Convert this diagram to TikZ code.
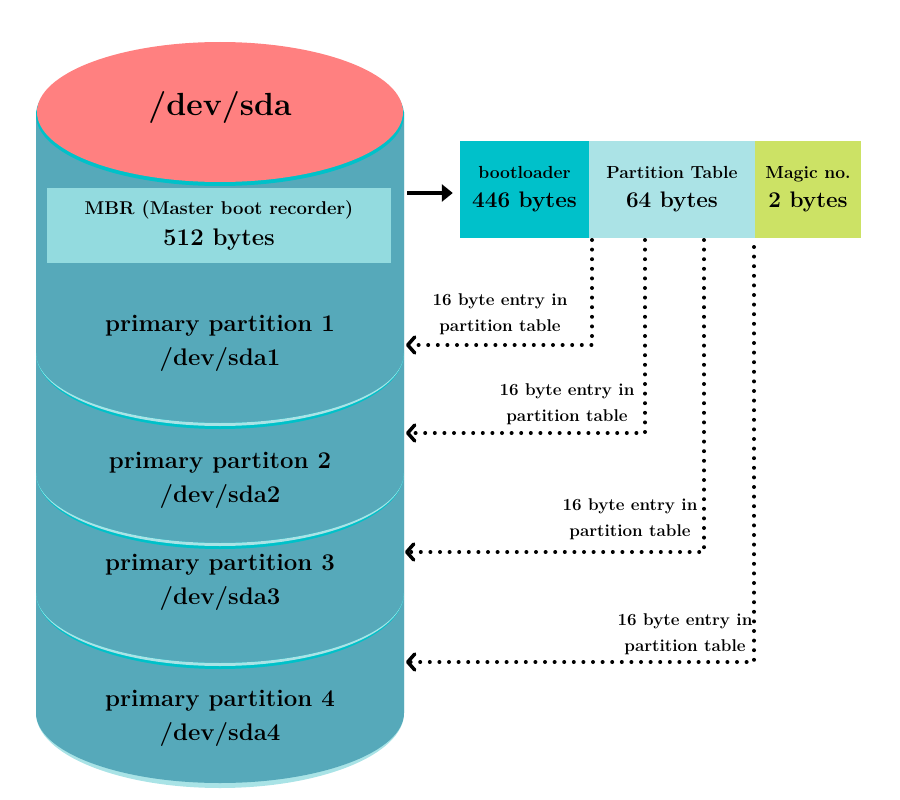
\documentclass[tikz,border=0pt]{standalone}
\usepackage{tikz}
\usetikzlibrary{arrows.meta}

\definecolor{disk}{HTML}{56A9BA}
\definecolor{diskrim}{HTML}{00C1C9}
\definecolor{disklight}{HTML}{A9E3E6}
\definecolor{sdared}{HTML}{FF8080}
\definecolor{mbrfill}{HTML}{93DBDF}
\definecolor{bootfill}{HTML}{00C1CA}
\definecolor{ptabfill}{HTML}{ABE3E6}
\definecolor{magicfill}{HTML}{CCE265}

\tikzset{
  field/.style={shape=rectangle, inner sep=0pt, minimum height=97pt, align=center, font=\fontsize{22.5}{29}\selectfont\bfseries},
  part/.style={align=center, font=\fontsize{24}{34}\selectfont\bfseries},
  entry/.style={line width=4pt, line cap=round, dash pattern=on 0pt off 9.6pt,
    -{Straight Barb[round,length=7pt,width=16pt,line width=3.5pt]}},
  entrylabel/.style={align=center, font=\fontsize{17}{26}\selectfont\bfseries},
}

\begin{document}
\begin{tikzpicture}[x=1pt,y=-1pt]
        \useasboundingbox (0,0) rectangle (900,800);

        % disk body
        \fill[disklight] (36,112) -- (36,713) arc[start angle=180,end angle=360,x radius=184pt,y radius=75pt] -- (404,112) -- cycle;
        \fill[disk] (36,112) -- (36,713) arc[start angle=180,end angle=360,x radius=184pt,y radius=70pt] -- (404,112) -- cycle;
        \foreach \c in {353,473,593} {
            \fill[diskrim] (36,\c) arc[start angle=180,end angle=360,x radius=184pt,y radius=76pt]
                arc[start angle=0,end angle=-180,x radius=184pt,y radius=70pt] -- cycle;
            \fill[disklight] (36,\c) arc[start angle=180,end angle=360,x radius=184pt,y radius=73pt]
                arc[start angle=0,end angle=-180,x radius=184pt,y radius=70pt] -- cycle;
        }
        \fill[diskrim] (220,115) ellipse[x radius=184pt,y radius=71pt];
        \fill[sdared] (220,112) ellipse[x radius=183pt,y radius=70pt];

        \node[font=\fontsize{32}{36}\selectfont\bfseries] (sda) at (220,107) {/dev/sda};
        \node[shape=rectangle,fill=mbrfill,minimum width=344pt,minimum height=75pt,align=center,
              font=\fontsize{24}{31}\selectfont\bfseries] (mbr) at (219,225.5)
            {{\fontsize{18.5}{31}\selectfont MBR (Master boot recorder)}\\512 bytes};
        \node[part] (sda1) at (220,343) {primary partition 1\\/dev/sda1};
        \node[part] (sda2) at (220,480) {primary partiton 2\\/dev/sda2};
        \node[part] (sda3) at (220,582) {primary partition 3\\/dev/sda3};
        \node[part] (sda4) at (220,718) {primary partition 4\\/dev/sda4};

        % MBR fields
        \node[field,fill=bootfill,minimum width=129pt] (boot) at (524.5,189.5)
            {{\fontsize{17.5}{29}\selectfont bootloader}\\446 bytes};
        \node[field,fill=ptabfill,minimum width=166pt] (ptab) at (672,189.5)
            {{\fontsize{17.5}{29}\selectfont Partition Table}\\64 bytes};
        \node[field,fill=magicfill,minimum width=106pt] (magic) at (808,189.5)
            {{\fontsize{17.5}{29}\selectfont Magic no.}\\2 bytes};

        \coordinate (mbrout) at (407,193);
        \draw[line width=3.5pt,-{Triangle[length=11pt,width=17pt]}] (mbrout) -- (mbrout -| boot.west) [shorten >=7pt];

        % partition table entries
        \coordinate (e1) at (592,240);
        \coordinate (e2) at (645,240);
        \coordinate (e3) at (704,240);
        \coordinate (e4) at (754,247);
        \coordinate (p1) at (406,345);
        \coordinate (p2) at (406,433);
        \coordinate (p3) at (405,552);
        \coordinate (p4) at (406,662);

        \draw[entry] (e1) |- (p1);
        \draw[entry] (e2) |- (p2);
        \draw[entry] (e3) |- (p3);
        \draw[entry] (e4) |- (p4);

        \node[entrylabel] (l1) at (500,314) {16 byte entry in\\partition table};
        \node[entrylabel] (l2) at (567,404) {16 byte entry in\\partition table};
        \node[entrylabel] (l3) at (630,519) {16 byte entry in\\partition table};
        \node[entrylabel] (l4) at (685,634) {16 byte entry in\\partition table};
\end{tikzpicture}
\end{document}
